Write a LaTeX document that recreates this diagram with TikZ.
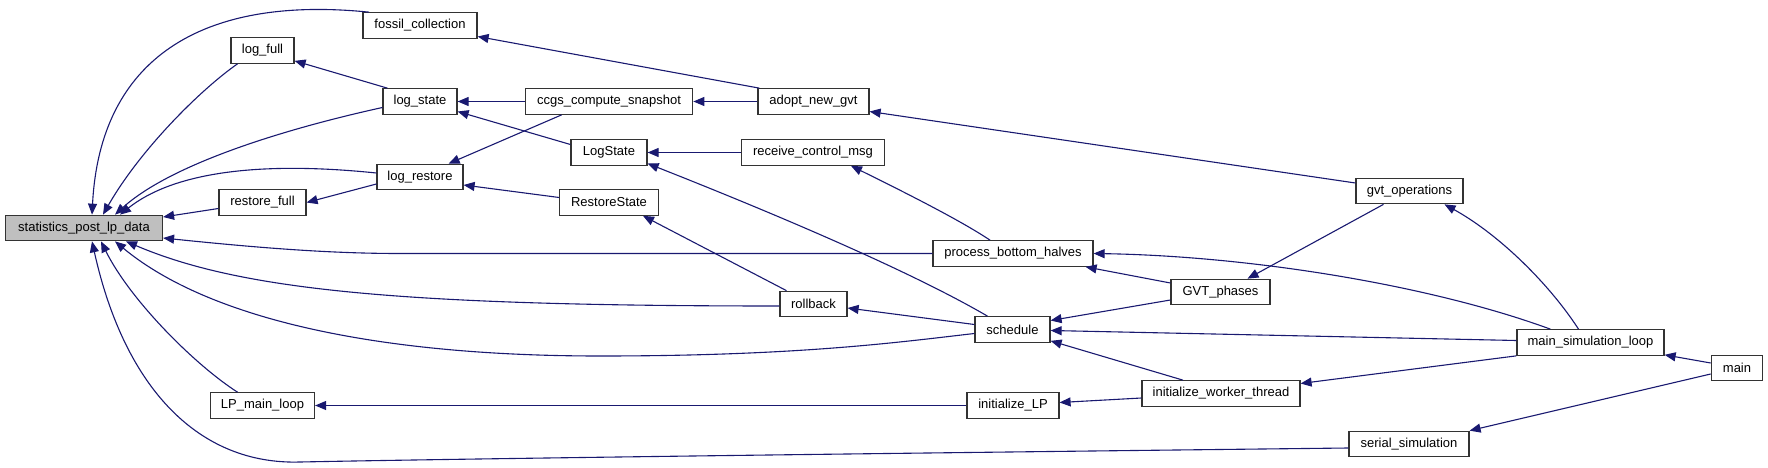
\documentclass[tikz,border=0pt]{standalone}
\usepackage{fontspec}
\setmainfont{Liberation Sans}
\usetikzlibrary{arrows.meta,calc}
\definecolor{navy}{HTML}{191970}
\definecolor{boxline}{HTML}{333333}
\definecolor{rootfill}{HTML}{BFBFBF}
\begin{document}
\begin{tikzpicture}[x=1pt,y=-1pt,
  box/.style={draw=boxline,line width=1.2pt,fill=white,rectangle,inner sep=0pt,minimum height=25.5pt,font=\fontsize{13}{15}\selectfont},
  rootbox/.style={box,fill=rootfill},
  e/.style={draw=navy,line width=1.1pt,{Triangle[length=11pt,width=9pt,fill=navy]}-}]
\useasboundingbox (0,0) rectangle (1768,468);
% nodes
\node[rootbox,minimum width=157pt] (stat) at (84,228) {statistics\_post\_lp\_data};
\node[box,minimum width=114pt] (fossil) at (420,25.5) {fossil\_collection};
\node[box,minimum width=63pt] (logfull) at (262.5,50.5) {log\_full};
\node[box,minimum width=74pt] (logstate) at (420,101.5) {log\_state};
\node[box,minimum width=86pt] (logrestore) at (420,177) {log\_restore};
\node[box,minimum width=87pt] (restorefull) at (262.5,202.5) {restore\_full};
\node[box,minimum width=167.5pt] (ccgs) at (609,101.5) {ccgs\_compute\_snapshot};
\node[box,minimum width=76pt] (LogState) at (609,152.5) {LogState};
\node[box,minimum width=98.5pt] (RestoreState) at (609,202.5) {RestoreState};
\node[box,minimum width=111pt] (adopt) at (813.5,101.5) {adopt\_new\_gvt};
\node[box,minimum width=142.6pt] (rcm) at (813,152.5) {receive\_control\_msg};
\node[box,minimum width=160pt] (pbh) at (1013,253.5) {process\_bottom\_halves};
\node[box,minimum width=67pt] (rollback) at (813.5,304) {rollback};
\node[box,minimum width=75pt] (schedule) at (1012.5,329.5) {schedule};
\node[box,minimum width=92pt] (initLP) at (1013,405.5) {initialize\_LP};
\node[box,minimum width=104pt] (LPmain) at (262.5,405.5) {LP\_main\_loop};
\node[box,minimum width=107pt] (gvtops) at (1409.5,191) {gvt\_operations};
\node[box,minimum width=99pt] (GVTphases) at (1220.5,292) {GVT\_phases};
\node[box,minimum width=158pt] (iwt) at (1221,393.5) {initialize\_worker\_thread};
\node[box,minimum width=147pt] (msl) at (1590.5,342.5) {main\_simulation\_loop};
\node[box,minimum width=51.5pt] (main) at (1737,368) {main};
\node[box,minimum width=120pt] (serial) at (1409,444) {serial\_simulation};
% edges (arrow at callee)
\draw[e] ($(stat.north)+(8,0)$) .. controls (100,60) and (200,-5) .. ($(fossil.north)+(-51,0)$);
\draw[e] ($(stat.north)+(19,0)$) .. controls (140,150) and (200,90) .. ($(logfull.south)+(-25,0)$);
\draw[e] ($(stat.north)+(31,0)$) .. controls (170,165) and (280,130) .. ($(logstate.west)+(0,6)$);
\draw[e] ($(stat.north)+(36,0)$) .. controls (170,175) and (250,160) .. ($(logrestore.west)+(0,-4)$);
\draw[e] ($(stat.east)+(0,-11)$) -- ($(restorefull.west)+(0,6)$);
\draw[e] (restorefull.east) -- ($(logrestore.west)+(0,7)$);
\draw[e] (logstate.east) -- (ccgs.west);
\draw[e] ($(logfull.south east)+(0,-3)$) -- ($(logstate.north west)+(5,0)$);
\draw[e] ($(logstate.east)+(0,10)$) -- ($(LogState.west)+(0,-8)$);
\draw[e] ($(logrestore.north east)+(-15,0)$) -- ($(ccgs.south west)+(37,0)$);
\draw[e] ($(logrestore.east)+(0,8)$) -- ($(RestoreState.west)+(0,-5)$);
\draw[e] ($(fossil.east)+(0,11)$) -- ($(adopt.north west)+(2,0)$);
\draw[e] (ccgs.east) -- (adopt.west);
\draw[e] ($(adopt.east)+(0,10)$) -- ($(gvtops.west)+(0,-8)$);
\draw[e] (LogState.east) -- (rcm.west);
\draw[e] ($(LogState.east)+(0,11)$) .. controls (740,200) and (900,265) .. ($(schedule.north)+(-25,0)$);
\draw[e] ($(rcm.south)+(38,0)$) .. controls (900,190) and (960,220) .. ($(pbh.north)+(-23,0)$);
\draw[e] ($(RestoreState.south)+(34,0)$) -- ($(rollback.north)+(-27,0)$);
\draw[e] ($(stat.east)+(0,10)$) .. controls (260,248) and (330,253.5) .. (400,253.5) -- (pbh.west);
\draw[e] ($(stat.south)+(42,0)$) .. controls (240,290) and (400,306) .. ($(rollback.west)+(0,2)$);
\draw[e] ($(stat.south)+(31,0)$) .. controls (210,320) and (380,356) .. (600,356) .. controls (800,356) and (900,342) .. ($(schedule.west)+(0,4)$);
\draw[e] ($(stat.south)+(17,0)$) .. controls (130,300) and (195,365) .. ($(LPmain.north)+(-25,0)$);
\draw[e] ($(stat.south)+(8,0)$) .. controls (125,390) and (200,465) .. (300,462) .. controls (500,458) and (1000,452) .. ($(serial.west)+(0,4)$);
\draw[e] (LPmain.east) -- (initLP.west);
\draw[e] ($(rollback.east)+(0,4)$) -- ($(schedule.west)+(0,-5)$);
\draw[e] (pbh.east) .. controls (1250,256) and (1430,285) .. ($(msl.north west)+(34,0)$);
\draw[e] ($(pbh.south east)+(-8,0)$) -- ($(GVTphases.west)+(0,-9)$);
\draw[e] ($(schedule.east)+(0,-9)$) -- ($(GVTphases.west)+(0,8)$);
\draw[e] ($(GVTphases.north)+(27,0)$) -- ($(gvtops.south)+(-26,0)$);
\draw[e] ($(gvtops.south)+(35,0)$) .. controls (1500,235) and (1550,285) .. ($(msl.north)+(-12,0)$);
\draw[e] ($(schedule.east)+(0,1)$) -- ($(msl.west)+(0,-2)$);
\draw[e] ($(schedule.south east)+(0,-2)$) -- ($(iwt.north)+(-38,0)$);
\draw[e] ($(initLP.east)+(0,-3)$) -- ($(iwt.west)+(0,4.5)$);
\draw[e] ($(iwt.east)+(0,-10)$) -- (msl.south west);
\draw[e] ($(msl.south east)+(0,-1)$) -- ($(main.west)+(0,-5)$);
\draw[e] (serial.north east) -- ($(main.west)+(0,6)$);
\end{tikzpicture}
\end{document}
